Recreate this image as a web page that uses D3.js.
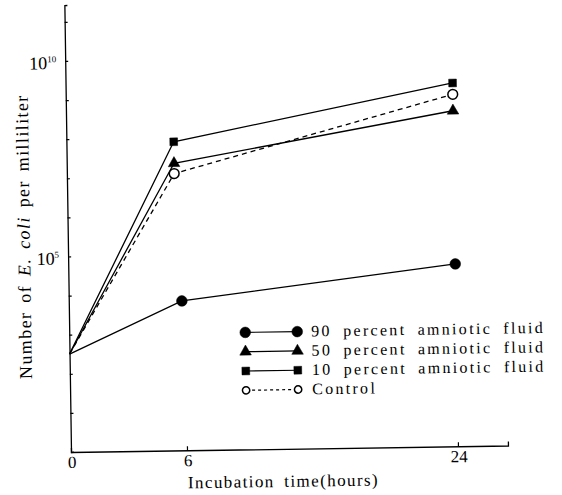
<!DOCTYPE html>
<html>
<head>
<meta charset="utf-8">
<script src="https://cdn.jsdelivr.net/npm/d3@7"></script>
<style>
  body { margin: 0; background: #fff; }
  svg { font-family: "Liberation Serif", "DejaVu Serif", serif; }
</style>
</head>
<body>
<svg id="chart" width="562" height="495"></svg>
<script>
// hours at which each curve was plotted
var hours90 = [0, 5.85, 24];
var hoursOther = [0, 5.55, 24];

// E. coli per milliliter
var fluid90 = [320, 6600, 46000];
var fluid50 = [320, 2.2e7, 3.8e8];
var fluid10 = [320, 7.8e7, 1.95e9];
var control = [320, 1.2e7, 1.0e9];

var xTicks = [6, 24];
var yTicks = [1, 10, 100, 1e3, 1e4, 1e5, 1e6, 1e7, 1e8, 1e9, 1e10, 1e11];
var yLabels = [{v: 1e5, exp: "5"}, {v: 1e10, exp: "10"}];

var legendNames = ["90 percent amniotic fluid", "50 percent amniotic fluid",
                   "10 percent amniotic fluid", "Control"];

var svg = d3.select("#chart");

// the scanned figure is a little skewed
var g = svg.append("g").attr("transform", "rotate(-0.85, 71, 452)");

var x = d3.scaleLinear().domain([0, 6, 24, 27.3]).range([71, 187, 458, 508]);
var y = d3.scaleLog().domain([1, Math.pow(10, 11.43)]).range([452, 5]);

// y axis, ticks pointing inward
g.append("g")
  .attr("transform", "translate(71,0)")
  .call(d3.axisLeft(y).tickValues(yTicks).tickSize(-3).tickFormat(""))
  .call(function(a) {
    a.select(".domain").attr("stroke-width", 1.3);
    a.selectAll(".tick line").attr("stroke-width", 1.2);
  });

// x axis, ticks pointing up
g.append("g")
  .attr("transform", "translate(0,452)")
  .call(d3.axisBottom(x).tickValues(xTicks).tickSize(-4).tickFormat(""))
  .call(function(a) {
    a.select(".domain").attr("stroke-width", 1.3);
    a.selectAll(".tick line").attr("stroke-width", 1.2);
  });

// x tick labels
g.selectAll(".xlab")
  .data([0].concat(xTicks))
  .enter().append("text")
    .attr("class", "xlab")
    .attr("x", function(d) { return x(d) + 1; })
    .attr("y", 468)
    .attr("text-anchor", "middle")
    .attr("font-size", 17)
    .text(function(d) { return d; });

// y tick labels with superscript
var yl = g.selectAll(".ylab")
  .data(yLabels)
  .enter().append("text")
    .attr("class", "ylab")
    .attr("x", 62)
    .attr("y", function(d) { return y(d.v) + 8; })
    .attr("text-anchor", "end")
    .attr("font-size", 18);
yl.append("tspan").text("10");
yl.append("tspan")
  .attr("dy", -7)
  .attr("font-size", 9)
  .text(function(d) { return d.exp; });

// axis titles
g.append("text")
  .attr("x", 283)
  .attr("y", 490)
  .attr("text-anchor", "middle")
  .attr("font-size", 17)
  .attr("letter-spacing", 1.4)
  .attr("word-spacing", 4)
  .text("Incubation time(hours)");

var yt = g.append("text")
  .attr("transform", "translate(33,236) rotate(-90)")
  .attr("text-anchor", "middle")
  .attr("font-size", 18)
  .attr("letter-spacing", 1.4)
  .attr("word-spacing", 3);
yt.append("tspan").text("Number of ");
yt.append("tspan").attr("font-style", "italic").text("E. coli");
yt.append("tspan").text(" per milliliter");

// series
var series = [
  {name: legendNames[0], hours: hours90, values: fluid90, mark: "circle", dash: null},
  {name: legendNames[1], hours: hoursOther, values: fluid50, mark: "triangle", dash: null},
  {name: legendNames[2], hours: hoursOther, values: fluid10, mark: "square", dash: null},
  {name: legendNames[3], hours: hoursOther, values: control, mark: "open", dash: "5,4"}
];

var line = d3.line()
  .x(function(d) { return x(d[0]); })
  .y(function(d) { return y(d[1]); });

var markSize = {circle: 90, triangle: 58, square: 60, open: 75};

var drawMark = function(sel, kind, scale) {
  sel.append("path")
    .attr("d", d3.symbol().type(kind == "triangle" ? d3.symbolTriangle :
                 kind == "square" ? d3.symbolSquare : d3.symbolCircle)
               .size(markSize[kind] * scale * scale))
    .attr("fill", kind == "open" ? "#fff" : "#000")
    .attr("stroke", "#000")
    .attr("stroke-width", kind == "open" ? 1.5 : 0.5);
};

series.forEach(function(s) {
  var pts = s.hours.map(function(h, i) { return [h, s.values[i]]; });
  g.append("path")
    .datum(pts)
    .attr("d", line)
    .attr("fill", "none")
    .attr("stroke", "#000")
    .attr("stroke-width", 1.3)
    .attr("stroke-dasharray", s.dash);

  pts.slice(1).forEach(function(p) {
    var m = g.append("g")
      .attr("transform", "translate(" + x(p[0]) + "," + y(p[1]) + ")");
    drawMark(m, s.mark, 1);
  });
});

// legend
var legend = g.append("g").attr("transform", "translate(247,335)");
series.forEach(function(s, i) {
  var row = legend.append("g").attr("transform", "translate(0," + (i * 19.3) + ")");
  row.append("line")
    .attr("x1", 0).attr("x2", 52)
    .attr("stroke", "#000")
    .attr("stroke-width", 1.2)
    .attr("stroke-dasharray", s.dash ? "3,3" : null);
  [0, 52].forEach(function(px) {
    var m = row.append("g").attr("transform", "translate(" + px + ",0)");
    drawMark(m, s.mark, s.mark == "open" ? 0.75 : 1);
  });
  row.append("text")
    .attr("x", 66)
    .attr("y", 5)
    .attr("font-size", 16)
    .attr("letter-spacing", 2.3)
    .attr("word-spacing", 5)
    .text(s.name);
});
</script>
</body>
</html>
